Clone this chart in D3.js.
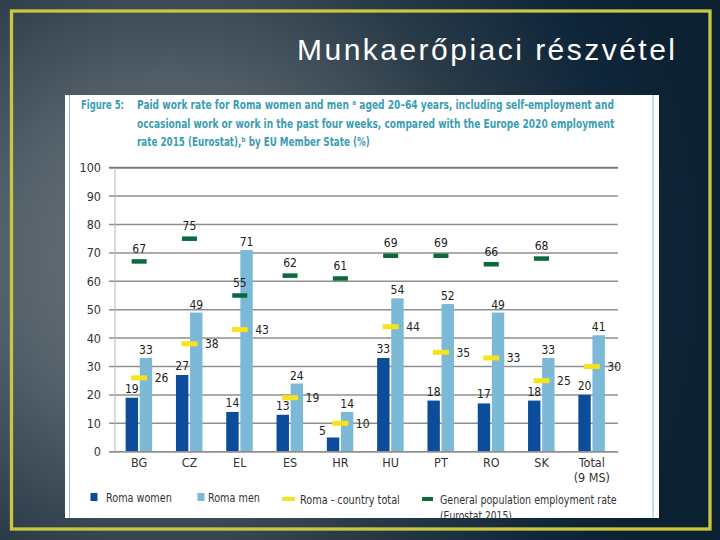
<!DOCTYPE html>
<html><head><meta charset="utf-8">
<script src="https://cdn.jsdelivr.net/npm/d3@7/dist/d3.min.js"></script>
<style>html,body{margin:0;padding:0;background:#0c2132;} svg{display:block}</style>
</head><body>
<svg id="chart" width="720" height="540"></svg>
<script>
// ---- data ----
const categories = ["BG","CZ","EL","ES","HR","HU","PT","RO","SK","Total (9 MS)"];
const categoryLabels = [["BG"],["CZ"],["EL"],["ES"],["HR"],["HU"],["PT"],["RO"],["SK"],["Total","(9 MS)"]];
const romaWomen  = [19,27,14,13, 5,33,18,17,18,20];
const romaMen    = [33,49,71,24,14,54,52,49,33,41];
const romaTotal  = [26,38,43,19,10,44,35,33,25,30];
const generalPop = [67,75,55,62,61,69,69,66,68,null];
const yTicks = [0,10,20,30,40,50,60,70,80,90,100];
const womenLabelLeft = ["HR"];
const seriesNames = ["Roma women","Roma men","Roma - country total","General population employment rate","(Eurostat 2015)"];
const slideTitle = "Munkaerőpiaci részvétel";
const captionLead = "Figure 5:";
const captionLines = [
  "Paid work rate for Roma women and men ᵃ aged 20–64 years, including self-employment and",
  "occasional work or work in the past four weeks, compared with the Europe 2020 employment",
  "rate 2015 (Eurostat),ᵇ by EU Member State (%)"
];

// ---- styles ----
const C = {women:"#0b4c9b", men:"#7bb9d7", yellow:"#f6e31c", green:"#0a6a3b", teal:"#3b9db4", grid:"#8f8f8f", text:"#222"};
const NARROW = "'Liberation Sans Narrow','Arial Narrow','DejaVu Sans Condensed',sans-serif";

const svg = d3.select("#chart");
const defs = svg.append("defs");
const grad = defs.append("radialGradient").attr("id","bg")
  .attr("gradientUnits","userSpaceOnUse").attr("cx",170).attr("cy",260).attr("r",540);
[[0,"#6c767d"],[0.3,"#56626b"],[0.6,"#2a3b48"],[0.85,"#10263a"],[1,"#0c2132"]]
  .forEach(([o,c])=>grad.append("stop").attr("offset",o).attr("stop-color",c));
svg.append("rect").attr("width",720).attr("height",540).attr("fill","url(#bg)");

// slide border
svg.append("rect").attr("x",11.5).attr("y",11).attr("width",698.5).attr("height",518)
  .attr("fill","none").attr("stroke","#c9c83c").attr("stroke-width",3.3);

// slide title
svg.append("text").attr("x",297).attr("y",60)
  .attr("textLength",378).attr("lengthAdjust","spacing")
  .style("font-family","'Liberation Sans',Arial,sans-serif").style("font-size","30px")
  .attr("fill","#ffffff").text(slideTitle);

// helper: place text and squeeze horizontally to a target width
function fitText(parent, str, x, y, width, styleFn){
  const t = parent.append("text").attr("x",0).attr("y",0).call(styleFn).text(str);
  const natural = t.node().getComputedTextLength();
  const k = Math.min(1, width/natural);
  t.attr("transform",`translate(${x},${y}) scale(${k},1)`);
  return t;
}

// chart panel
defs.append("clipPath").attr("id","panelClip").append("rect")
  .attr("x",65).attr("y",95).attr("width",594).attr("height",423);
svg.append("rect").attr("x",65).attr("y",95).attr("width",594).attr("height",423).attr("fill","#ffffff");
svg.append("line").attr("x1",69.5).attr("x2",69.5).attr("y1",95).attr("y2",518).attr("stroke","#7cc0cc").attr("stroke-width",1);
svg.append("line").attr("x1",653).attr("x2",653).attr("y1",95).attr("y2",518).attr("stroke","#7cc0cc").attr("stroke-width",1);
const panel = svg.append("g");

// caption
const capStyle = sel => sel.style("font-family",NARROW).style("font-size","12.5px").style("font-weight","bold").attr("fill",C.teal);
fitText(panel, captionLead, 81, 109, 43, capStyle);
fitText(panel, captionLines[0], 137, 109, 477, capStyle);
fitText(panel, captionLines[1], 137, 127.5, 478, capStyle);
fitText(panel, captionLines[2], 137, 146, 233, capStyle);

// scales
const x = d3.scaleBand().domain(categories).range([114,617]).padding(0);
const cx = c => x(c) + x.bandwidth()/2;
const xs = d3.scaleBand().domain(["women","men"]).range([-13.5,13]).paddingInner(0.12);
const y = d3.scaleLinear().domain([0,100]).range([451.7,167.7]);

const g = panel.append("g");
// gridlines
g.selectAll("line.grid").data(yTicks).join("line").attr("class","grid")
  .attr("x1",109).attr("x2",618).attr("y1",d=>y(d)).attr("y2",d=>y(d))
  .attr("stroke",d=>d===100?"#7a7a7a":C.grid).attr("stroke-width",d=>d===100?2:1.5);
g.append("line").attr("x1",115).attr("x2",115).attr("y1",y(100)).attr("y2",y(0)).attr("stroke","#b5b5b5").attr("stroke-width",1);

// y axis labels
const yAxis = g.append("g").attr("transform","translate(109,0)")
  .call(d3.axisLeft(y).tickValues(yTicks).tickSize(0).tickPadding(8));
yAxis.select(".domain").remove();
yAxis.selectAll("text").style("font-family",NARROW).style("font-size","12.5px").attr("fill","#333");

// x labels
categories.forEach((c,i)=>{
  categoryLabels[i].forEach((t,j)=>{
    g.append("text").attr("x",cx(c)).attr("y",467+j*14.5).attr("text-anchor","middle")
      .style("font-family",NARROW).style("font-size","12.5px").attr("fill","#333").text(t);
  });
});

const vlab = sel => sel.style("font-family",NARROW).style("font-size","12px").attr("fill",C.text);

// bars
const rows = categories.map((c,i)=>({c, w:romaWomen[i], m:romaMen[i], t:romaTotal[i], gp:generalPop[i]}));
g.selectAll("rect.w").data(rows).join("rect").attr("class","w")
  .attr("x",d=>cx(d.c)+xs("women")).attr("width",xs.bandwidth())
  .attr("y",d=>y(d.w)).attr("height",d=>y(0)-y(d.w)).attr("fill",C.women);
g.selectAll("rect.m").data(rows).join("rect").attr("class","m")
  .attr("x",d=>cx(d.c)+xs("men")).attr("width",xs.bandwidth())
  .attr("y",d=>y(d.m)).attr("height",d=>y(0)-y(d.m)).attr("fill",C.men);
// x axis line
g.append("line").attr("x1",109).attr("x2",618).attr("y1",y(0)).attr("y2",y(0)).attr("stroke",C.grid).attr("stroke-width",1.5);

// bar labels
g.selectAll("text.wl").data(rows).join("text").attr("class","wl").call(vlab)
  .attr("x",d=>womenLabelLeft.includes(d.c)? cx(d.c)+xs("women")-1 : cx(d.c)+xs("women")+xs.bandwidth()/2)
  .attr("y",d=>womenLabelLeft.includes(d.c)? y(d.w)-3 : y(d.w)-5)
  .attr("text-anchor",d=>womenLabelLeft.includes(d.c)?"end":"middle").text(d=>d.w);
g.selectAll("text.ml").data(rows).join("text").attr("class","ml").call(vlab)
  .attr("x",d=>cx(d.c)+xs("men")+xs.bandwidth()/2).attr("y",d=>y(d.m)-4)
  .attr("text-anchor","middle").text(d=>d.m);

// general population markers
const gp = rows.filter(d=>d.gp!=null);
g.selectAll("rect.gp").data(gp).join("rect").attr("class","gp")
  .attr("x",d=>cx(d.c)-7.5).attr("width",15).attr("y",d=>y(d.gp)-2.25).attr("height",4.5).attr("fill",C.green);
g.selectAll("text.gpl").data(gp).join("text").attr("class","gpl").call(vlab)
  .attr("x",d=>cx(d.c)).attr("y",d=>y(d.gp)-8.5).attr("text-anchor","middle").text(d=>d.gp);

// roma total markers
g.selectAll("rect.rt").data(rows).join("rect").attr("class","rt")
  .attr("x",d=>cx(d.c)-8).attr("width",16).attr("y",d=>y(d.t)-2.5).attr("height",5).attr("fill",C.yellow);
g.selectAll("text.rtl").data(rows).join("text").attr("class","rtl").call(vlab)
  .attr("x",d=>cx(d.c)+xs("men")+xs.bandwidth()+2.5).attr("y",d=>y(d.t)+4.2)
  .attr("text-anchor","start").text(d=>d.t);

// legend
const lg = panel.append("g");
const lt = sel => sel.style("font-family",NARROW).style("font-size","12px").attr("fill","#333");
lg.append("rect").attr("x",90.5).attr("y",493).attr("width",7).attr("height",8).attr("fill",C.women);
fitText(lg, seriesNames[0], 106, 501.5, 66, lt);
lg.append("rect").attr("x",197.5).attr("y",493).attr("width",7).attr("height",8).attr("fill",C.men);
fitText(lg, seriesNames[1], 208, 501.5, 52, lt);
lg.append("rect").attr("x",282).attr("y",497).attr("width",13).attr("height",4).attr("fill",C.yellow);
fitText(lg, seriesNames[2], 300, 504, 100, lt);
lg.append("rect").attr("x",422).attr("y",497).attr("width",11).attr("height",4).attr("fill",C.green);
fitText(lg, seriesNames[3], 440, 503.5, 177, lt);
// second legend line sits at the panel's bottom edge and is cut there, as in the reference
const clipG = lg.append("g").attr("clip-path","url(#panelClip)");
fitText(clipG, seriesNames[4], 440, 519.5, 72, lt);
</script>
</body></html>
